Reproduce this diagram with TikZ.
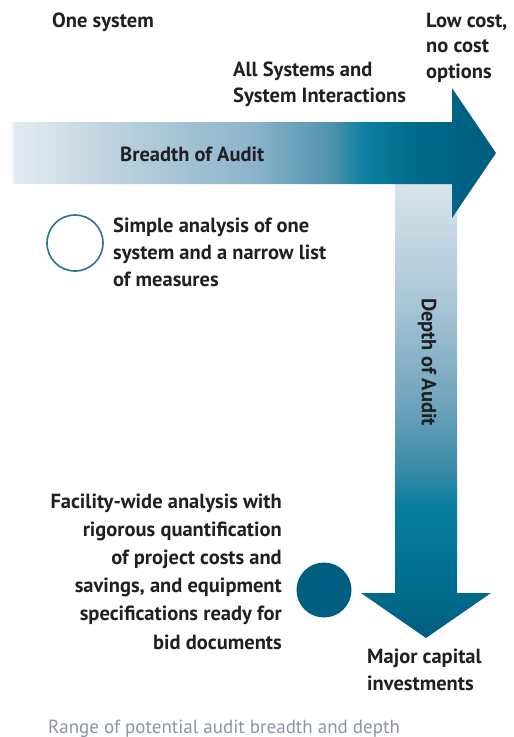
\documentclass[tikz,border=0pt]{standalone}
\usepackage{fontspec}
\setmainfont{PT Sans}
\definecolor{inkc}{HTML}{1F2024}
\definecolor{capc}{HTML}{8797A5}
\definecolor{tealc}{HTML}{005F80}
\definecolor{ringc}{HTML}{2A7390}
\pgfdeclarehorizontalshading{breadthshade}{100bp}{%
  color(0bp)=(white!100!black);
  color(25bp)=(white!100!black);
  color(25.5bp)=({rgb,255:red,226;green,235;blue,241});
  color(37bp)=({rgb,255:red,184;green,207;blue,220});
  color(50bp)=({rgb,255:red,140;green,180;blue,202});
  color(58bp)=({rgb,255:red,79;green,147;blue,174});
  color(61.5bp)=({rgb,255:red,11;green,127;blue,158});
  color(67bp)=({rgb,255:red,0;green,106;blue,138});
  color(75bp)=({rgb,255:red,0;green,92;blue,126});
  color(100bp)=({rgb,255:red,0;green,92;blue,126})}
\pgfdeclareverticalshading{depthshade}{100bp}{%
  color(0bp)=({rgb,255:red,0;green,92;blue,126});
  color(25bp)=({rgb,255:red,0;green,92;blue,126});
  color(30bp)=({rgb,255:red,0;green,108;blue,140});
  color(39.6bp)=({rgb,255:red,7;green,125;blue,157});
  color(43.5bp)=({rgb,255:red,58;green,138;blue,168});
  color(51bp)=({rgb,255:red,112;green,164;blue,189});
  color(62bp)=({rgb,255:red,169;green,198;blue,214});
  color(75bp)=({rgb,255:red,216;green,228;blue,236});
  color(100bp)=({rgb,255:red,216;green,228;blue,236})}
\tikzset{
  lbl/.style={font=\fontsize{20.5}{#1}\selectfont\bfseries, text=inkc, inner sep=0pt},
  lbl/.default=27,
}
\begin{document}
\begin{tikzpicture}[x=1pt,y=-1pt]
\useasboundingbox (0,0) rectangle (514,737);
\shade[shading=depthshade] (395,184) -- (457,184) -- (457,593) -- (491,593)
  -- (426,638) -- (361,593) -- (395,593) -- cycle;
\shade[shading=breadthshade] (10,122) -- (452,122) -- (452,88) -- (496,153)
  -- (452,218) -- (452,184) -- (10,184) -- cycle;
\draw[ringc, line width=1.6pt] (75,243) circle [radius=28];
\fill[tealc] (324,590) circle [radius=27.5];

% texts placed by the baseline of their last line
\node[lbl, anchor=base west] (one) at (52,27) {One system};
\node[lbl=26, anchor=base west, align=left] (all) at (233,102)
  {All Systems and\\System Interactions};
\node[lbl=25.5, anchor=base west, align=left] (low) at (426,78)
  {Low cost,\\no cost\\options};
\node[lbl, anchor=base west] (breadth) at (120,161) {Breadth of Audit};
\node[lbl, rotate=-90] (depth) at (427,362) {Depth of Audit};
\node[lbl=27, anchor=base west, align=left] (simple) at (113,286)
  {Simple analysis of one\\system and a narrow list\\of measures};
\node[lbl=28.2, anchor=base east, align=right] (facility) at (282,649)
  {Facility-wide analysis with\\rigorous quantification\\of project costs and\\savings, and equipment\\specifications ready for\\bid documents};
\node[lbl=27, anchor=base west, align=left] (major) at (367,690)
  {Major capital\\investments};
\node[anchor=base west, inner sep=0pt, text=capc, font=\fontsize{19}{24}\selectfont]
  (caption) at (48,733) {Range of potential audit breadth and depth};
\end{tikzpicture}
\end{document}
